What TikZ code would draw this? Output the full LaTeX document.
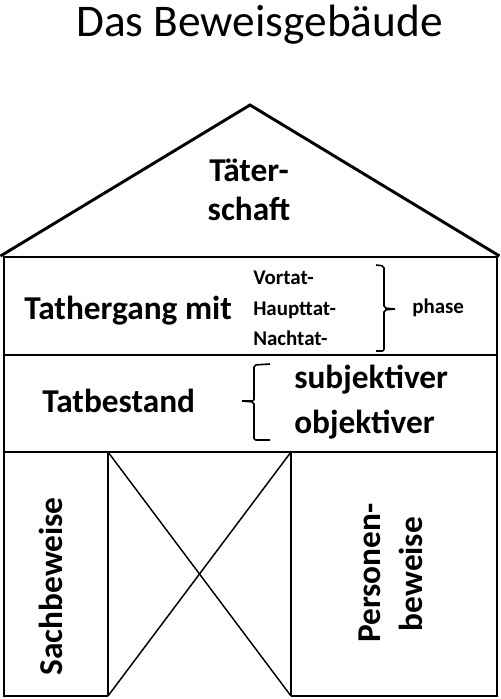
\documentclass[tikz,border=0pt]{standalone}
\usepackage{fontspec}
\setmainfont{Carlito}
\begin{document}
\begin{tikzpicture}[x=0.75pt,y=-0.75pt,
  wall/.style={line width=2.2pt,line join=miter},
  thin/.style={line width=1.1pt},
  brace/.style={line width=1.2pt,rounded corners=1.5pt},
  big/.style={inner sep=0pt,font=\fontsize{25}{30}\selectfont\bfseries},
  small/.style={inner sep=0pt,font=\fontsize{15.7}{23}\selectfont\bfseries},
  titlefont/.style={inner sep=0pt,font=\fontsize{34}{40}\selectfont}]
\useasboundingbox (0,0) rectangle (500,699);
% coordinates
\coordinate (rl) at (0.5,256);
\coordinate (apex) at (250,105);
\coordinate (rr) at (499.5,256);
\coordinate (tl) at (4,257);
\coordinate (tr) at (497,257);
\coordinate (m1l) at (4,355);
\coordinate (m1r) at (497,355);
\coordinate (m2l) at (4,452);
\coordinate (m2r) at (497,452);
\coordinate (bl) at (4,696);
\coordinate (br) at (497,696);
\coordinate (d1t) at (108,452);
\coordinate (d1b) at (108,696);
\coordinate (d2t) at (291,452);
\coordinate (d2b) at (291,696);
% roof
\draw[wall] (rl) -- (apex) -- (rr);
% walls
\draw[wall] (d1b) -- (bl) -- (tl) -- (tr) -- (br) -- (d2b);
\draw[wall] (m1l) -- (m1r);
\draw[wall] (m2l) -- (m2r);
\draw[wall] (d1t) -- (d1b);
\draw[wall] (d2t) -- (d2b);
% door cross
\draw[thin] (d1t) -- (d2b);
\draw[thin] (d1b) -- (d2t);
% braces
\draw[brace] (376,265) -- (384,266) -- (384,308) -- (395,309);
\draw[brace] (395,309) -- (384,310) -- (384,351) -- (376,351);
\draw[brace] (270,364) -- (254,365) -- (254,401) -- (242,401);
\draw[brace] (242,401) -- (254,402) -- (254,440) -- (270,440);
% texts
\node[titlefont,anchor=base] (title) at (259.5,37) {Das Beweisgebäude};
\node[big,anchor=base] (t1) at (249,181) {Täter-};
\node[big,anchor=base] (t2) at (249,220) {schaft};
\node[big,anchor=base west] (tg) at (24,319) {Tathergang mit};
\node[small,anchor=base west] (vor) at (253,284) {Vortat-};
\node[small,anchor=base west] (haupt) at (253,315) {Haupttat-};
\node[small,anchor=base west] (nach) at (253,345) {Nachtat-};
\node[small,anchor=base west] (ph) at (412,313) {phase};
\node[big,anchor=base west] (tb) at (42,412) {Tatbestand};
\node[big,anchor=base west] (sub) at (294,388) {subjektiver};
\node[big,anchor=base west] (obj) at (294,433) {objektiver};
\node[big,anchor=base,rotate=90] (sach) at (62,586.5) {Sachbeweise};
\node[big,anchor=base,rotate=90] (pers1) at (380,573) {Personen-};
\node[big,anchor=base,rotate=90] (pers2) at (422,574) {beweise};
\end{tikzpicture}
\end{document}
